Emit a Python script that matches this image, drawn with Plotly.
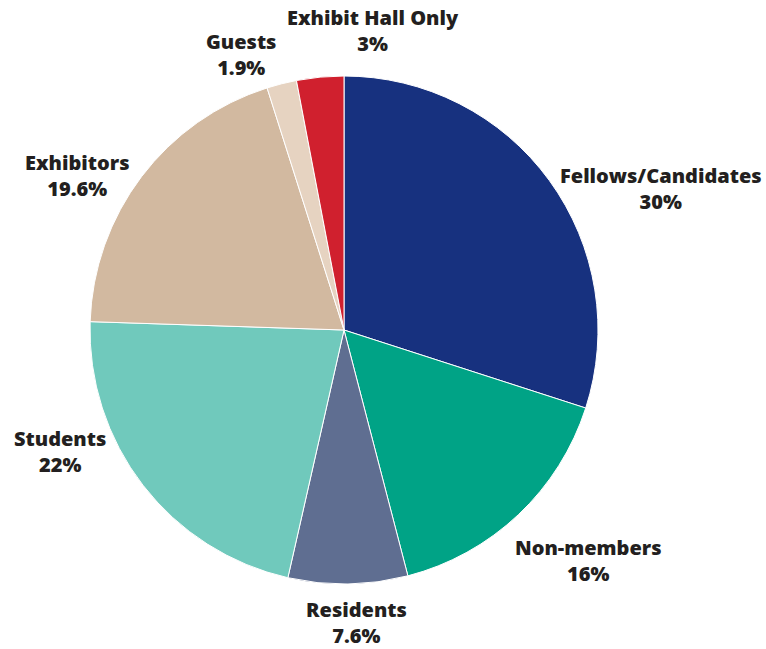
import math
import plotly.graph_objects as go

labels = ["Fellows/Candidates", "Non-members", "Residents", "Students", "Exhibitors", "Guests", "Exhibit Hall Only"]
values = [30, 16, 7.6, 22, 19.6, 1.9, 3]
pct_text = ["30%", "16%", "7.6%", "22%", "19.6%", "1.9%", "3%"]
colors = ["#17317F", "#00A386", "#5F6E91", "#70C9BC", "#D2B9A0", "#E6D3C1", "#D0202E"]

# label nudges (pixels) from each slice's outer-edge midpoint
label_shift_x = [112, 70, 9, -83, -64, -41, 53]
label_shift_y = [-8, -46, -39, 34, 1, 29, 47]

fig = go.Figure(go.Pie(
    labels=labels,
    values=values,
    text=pct_text,
    sort=False,
    direction="clockwise",
    rotation=0,
    marker=dict(colors=colors, line=dict(color="white", width=1)),
    textinfo="none",
    hoverinfo="label+text",
    showlegend=False,
))

total = sum(values)
cum = 0.0
annotations = []
for lab, v, t, sx, sy in zip(labels, values, pct_text, label_shift_x, label_shift_y):
    mid = (cum + v / 2) / total * 2 * math.pi
    cum += v
    px = 0.5 + 0.5 * math.sin(mid)
    py = 0.5 + 0.5 * math.cos(mid)
    annotations.append(dict(
        x=px, y=py, xref="paper", yref="paper",
        text=f"{lab}<br>{t}", showarrow=False,
        xanchor="center", yanchor="middle", align="center",
        xshift=sx, yshift=sy,
        font=dict(family="Open Sans", size=20, color="#231F20", weight=800),
    ))

fig.update_layout(
    width=766, height=649,
    margin=dict(l=90, r=168, t=76, b=65),
    paper_bgcolor="white",
    plot_bgcolor="white",
    annotations=annotations,
)

fig.write_html("out.html")
